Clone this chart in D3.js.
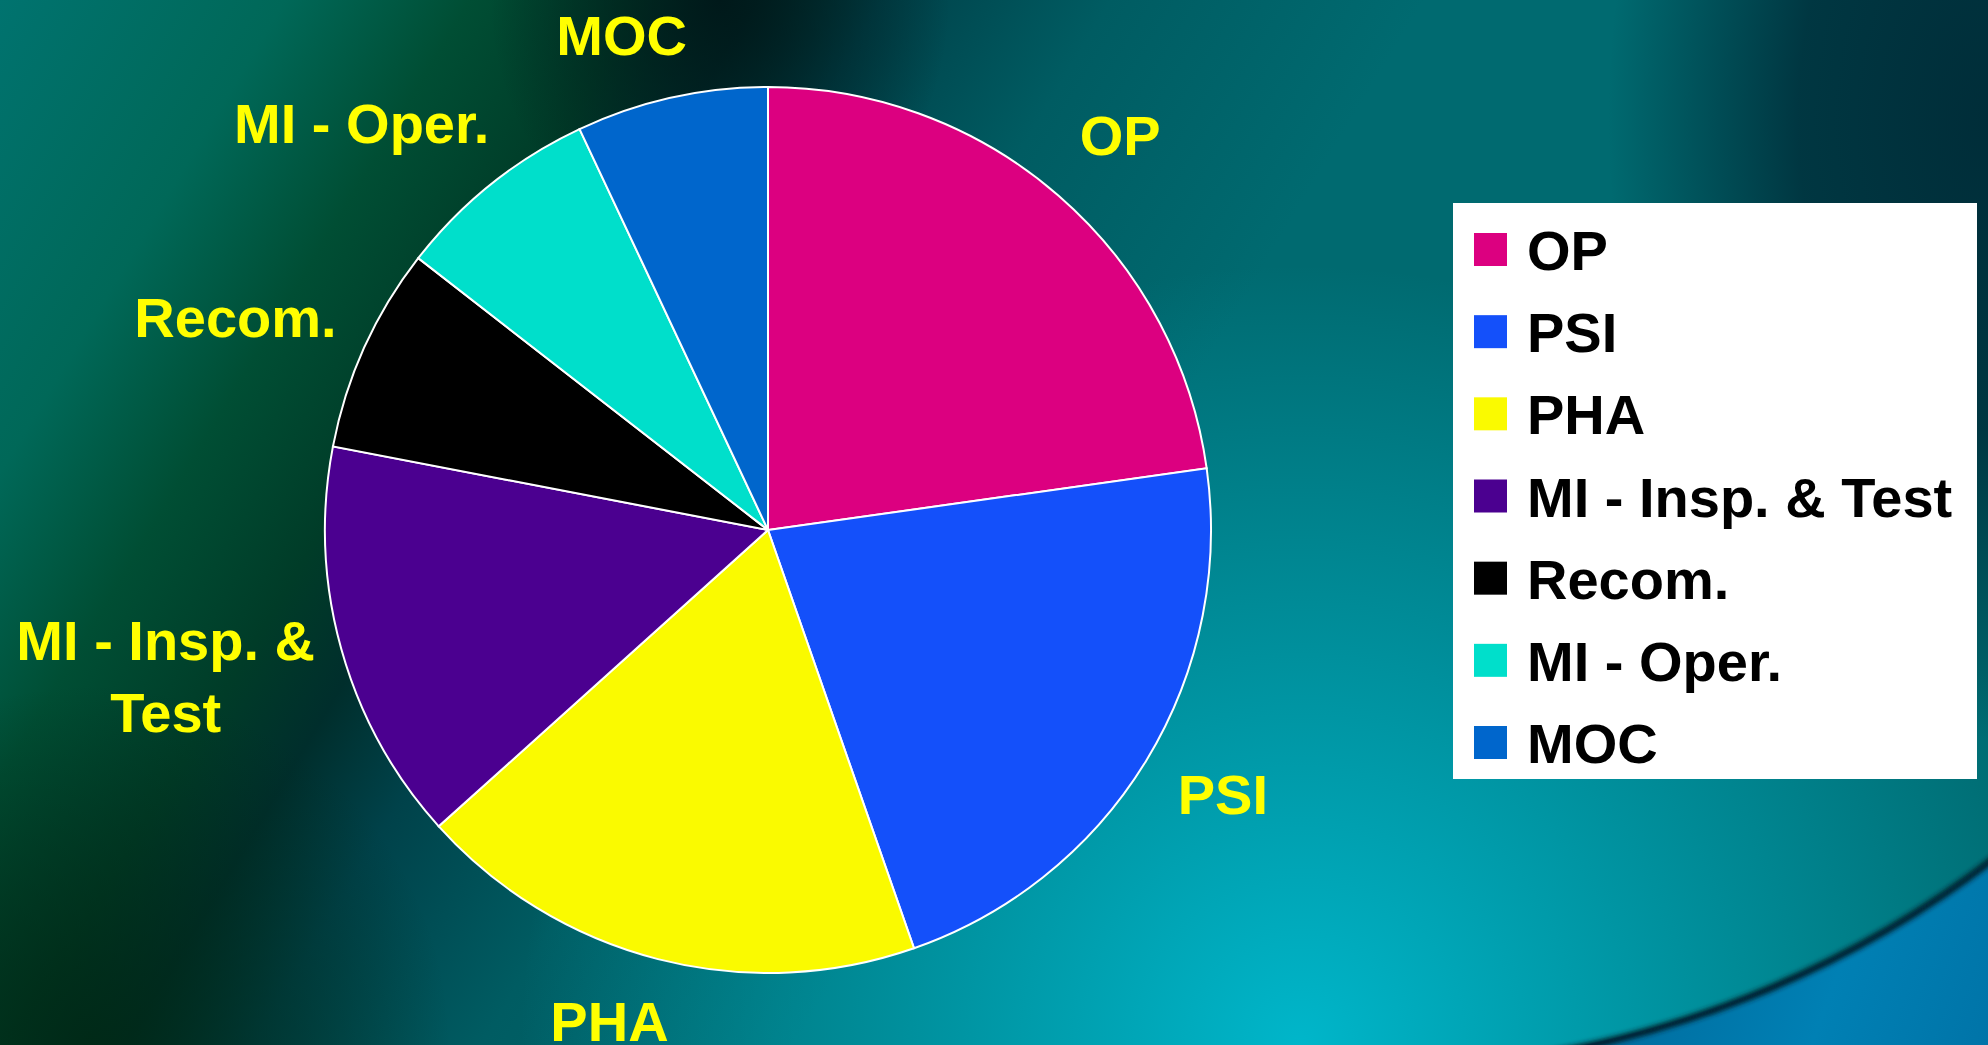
<!DOCTYPE html>
<html>
<head>
<meta charset="utf-8">
<script src="https://cdn.jsdelivr.net/npm/d3@7.9.0/dist/d3.min.js"></script>
<style>
  html, body { margin: 0; padding: 0; overflow: hidden; background: #006a6e; }
  svg { display: block; }
  text { font-family: "Liberation Sans", Arial, sans-serif; font-weight: bold; }
</style>
</head>
<body>
<svg id="chart" width="1988" height="1045"></svg>
<script>
// Data (share of each category, %)
const categories = ['OP', 'PSI', 'PHA', 'MI - Insp. & Test', 'Recom.', 'MI - Oper.', 'MOC'];
const shares = [22.8, 21.9, 18.7, 14.7, 7.5, 7.5, 7.0];
const sliceColors = ['#dc0080', '#1450fa', '#fafa00', '#4b0090', '#000000', '#00dfcb', '#0066cc'];

const width = 1988, height = 1045;
const cx = 768, cy = 530, radius = 443;

const svg = d3.select('#chart');
const defs = svg.append('defs');

// ---- Background: teal slide with a dark diagonal band and a swoosh ----
function radial(id, cxp, cyp, r, color, opacity) {
    const g = defs.append('radialGradient')
        .attr('id', id)
        .attr('gradientUnits', 'userSpaceOnUse')
        .attr('cx', cxp).attr('cy', cyp).attr('r', r);
    g.append('stop').attr('offset', 0).attr('stop-color', color).attr('stop-opacity', opacity);
    g.append('stop').attr('offset', 1).attr('stop-color', color).attr('stop-opacity', 0);
    return `url(#${id})`;
}

// band running from top centre down to bottom left
const band = defs.append('linearGradient')
    .attr('id', 'band')
    .attr('gradientUnits', 'userSpaceOnUse')
    .attr('x1', 0).attr('y1', 0).attr('x2', 1045).attr('y2', 630);
[[0, '#00736f'], [0.2, '#006858'], [0.33, '#004e34'], [0.45, '#003c28'],
 [0.53, '#002e2c'], [0.62, '#00424a'], [0.78, '#005c62'], [1, '#006a70']]
    .forEach(([o, c]) => band.append('stop').attr('offset', o).attr('stop-color', c));
svg.append('rect').attr('width', width).attr('height', height).attr('fill', 'url(#band)');

// lighter cyan towards the bottom middle/right
svg.append('rect').attr('width', width).attr('height', height)
    .attr('fill', radial('glow', 1300, 1045, 780, '#00b6ca', 1));

// darker bottom-left corner
svg.append('rect').attr('width', width).attr('height', height)
    .attr('fill', radial('corner', 90, 1045, 360, '#002814', 0.85));

// near-black at the top centre
const td = defs.append('radialGradient').attr('id', 'topdark');
td.append('stop').attr('offset', 0).attr('stop-color', '#001618').attr('stop-opacity', 0.9);
td.append('stop').attr('offset', 1).attr('stop-color', '#001618').attr('stop-opacity', 0);
svg.append('ellipse')
    .attr('cx', 720).attr('cy', 0).attr('rx', 230).attr('ry', 260)
    .attr('fill', 'url(#topdark)');

// dark top-right corner
const tr = defs.append('radialGradient').attr('id', 'trdark');
tr.append('stop').attr('offset', 0).attr('stop-color', '#002a36').attr('stop-opacity', 0.95);
tr.append('stop').attr('offset', 0.5).attr('stop-color', '#002a36').attr('stop-opacity', 0.8);
tr.append('stop').attr('offset', 1).attr('stop-color', '#002a36').attr('stop-opacity', 0);
svg.append('ellipse')
    .attr('cx', 1988).attr('cy', 120).attr('rx', 380).attr('ry', 620)
    .attr('fill', 'url(#trdark)');

// swoosh: bottom-right area outside a large circle
const swoosh = { x: 1371, y: 42, r: 1025 };
defs.append('clipPath').attr('id', 'swooshClip')
    .append('rect').attr('x', 1400).attr('y', 760).attr('width', 600).attr('height', 300);
const blue = defs.append('linearGradient')
    .attr('id', 'swooshFill')
    .attr('gradientUnits', 'userSpaceOnUse')
    .attr('x1', 1600).attr('y1', 900).attr('x2', 1988).attr('y2', 1045);
blue.append('stop').attr('offset', 0).attr('stop-color', '#00689a');
blue.append('stop').attr('offset', 0.6).attr('stop-color', '#0080b4');
blue.append('stop').attr('offset', 1).attr('stop-color', '#0074a8');

const circlePath = d3.path();
circlePath.moveTo(swoosh.x + swoosh.r, swoosh.y);
circlePath.arc(swoosh.x, swoosh.y, swoosh.r, 0, 2 * Math.PI);
const sw = svg.append('g').attr('clip-path', 'url(#swooshClip)');
sw.append('path')
    .attr('d', `M0,0H${width}V${height}H0Z` + circlePath.toString())
    .attr('fill-rule', 'evenodd')
    .attr('fill', 'url(#swooshFill)');
defs.append('filter').attr('id', 'soft')
    .append('feGaussianBlur').attr('stdDeviation', 2.5);
sw.append('circle')
    .attr('cx', swoosh.x).attr('cy', swoosh.y).attr('r', swoosh.r + 2)
    .attr('fill', 'none')
    .attr('stroke', '#001c28')
    .attr('stroke-width', 7)
    .attr('filter', 'url(#soft)');

// ---- Pie ----
const data = categories.map((c, i) => ({ label: c, value: shares[i], color: sliceColors[i] }));
const pie = d3.pie().sort(null).value(d => d.value);
const arcs = pie(data);
const arc = d3.arc().innerRadius(0).outerRadius(radius);

const g = svg.append('g').attr('transform', `translate(${cx},${cy})`);
g.selectAll('path.slice')
    .data(arcs)
    .join('path')
    .attr('class', 'slice')
    .attr('d', arc)
    .attr('fill', d => d.data.color)
    .attr('stroke', '#ffffff')
    .attr('stroke-width', 2);

// Data labels outside the pie, pushed away along the mid angle
const labelArc = d3.arc().innerRadius(radius + 44).outerRadius(radius + 44);
const fontSize = 56, lineHeight = 72, maxLabelWidth = 320;

function wrap(text) {
    const words = text.split(' ');
    const lines = [];
    let line = '';
    const probe = svg.append('text').attr('font-size', fontSize);
    words.forEach(w => {
        const test = line ? line + ' ' + w : w;
        probe.text(test);
        if (line && probe.node().getComputedTextLength() > maxLabelWidth) {
            lines.push(line);
            line = w;
        } else {
            line = test;
        }
    });
    lines.push(line);
    probe.remove();
    return lines;
}

arcs.forEach(d => {
    const [px, py] = labelArc.centroid(d);
    const mid = (d.startAngle + d.endAngle) / 2;
    const s = Math.sin(mid), c = Math.cos(mid);
    const lines = wrap(d.data.label);
    const t = g.append('text')
        .attr('font-size', fontSize)
        .attr('fill', '#ffff00')
        .attr('text-anchor', 'middle');
    lines.forEach((l, i) => {
        t.append('tspan').attr('x', 0).attr('y', i * lineHeight).text(l);
    });
    const w = t.node().getBBox().width;
    const capH = fontSize * 0.716;
    const h = capH + (lines.length - 1) * lineHeight;
    const bx = px + Math.sign(s) * Math.pow(Math.abs(s), 0.25) * w * 0.45;
    // labels on the upper diagonals sit a little higher
    const lift = c > 0 ? Math.pow(Math.abs(s * c), 4) * 200 : 0;
    const by = py - c * h / 2 - lift;
    // box centre -> first baseline
    t.attr('transform', `translate(${bx},${by - h / 2 + capH})`);
});

// ---- Legend ----
const legend = { x: 1453, y: 203, w: 524, h: 576 };
const lg = svg.append('g');
lg.append('rect')
    .attr('x', legend.x).attr('y', legend.y)
    .attr('width', legend.w).attr('height', legend.h)
    .attr('fill', '#ffffff');

const rowY = d3.scalePoint()
    .domain(categories)
    .range([legend.y + 46.5, legend.y + legend.h - 36.5]);

const rows = lg.selectAll('g.row')
    .data(data)
    .join('g')
    .attr('class', 'row')
    .attr('transform', d => `translate(${legend.x},${rowY(d.label)})`);
rows.append('rect')
    .attr('x', 21).attr('y', -16.5)
    .attr('width', 33).attr('height', 33)
    .attr('fill', d => d.color);
rows.append('text')
    .attr('x', 74).attr('y', 20.5)
    .attr('font-size', fontSize)
    .attr('fill', '#000000')
    .text(d => d.label);
</script>
</body>
</html>
